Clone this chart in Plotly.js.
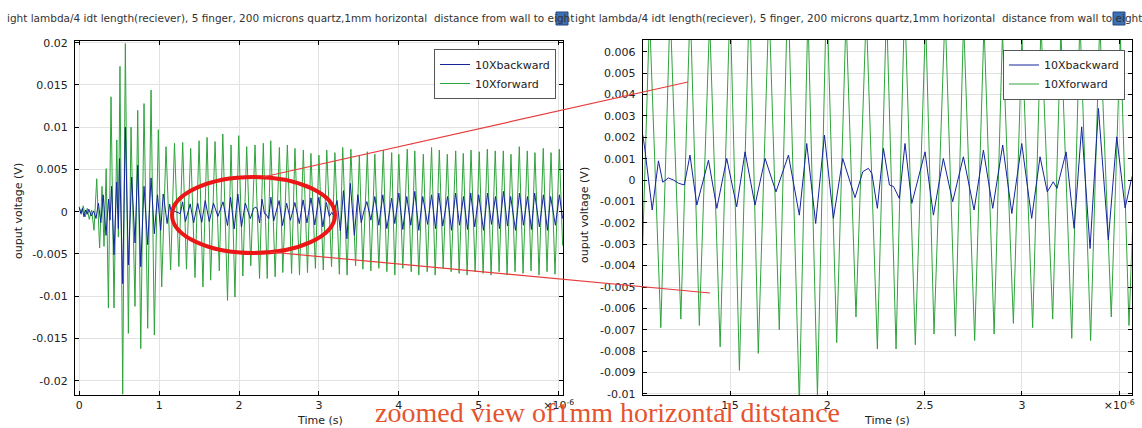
<!DOCTYPE html>
<html><head><meta charset="utf-8">
<script src="https://cdn.plot.ly/plotly-3.0.1.min.js"></script>
<style>html,body{margin:0;padding:0;background:#fff;}#chart{width:1142px;height:428px;}</style>
</head><body><div id="chart"></div>
<script>
// ---- data (time in microseconds, voltage in V) ----
const fwdTimeUs = [0, 0.025, 0.05, 0.075, 0.1, 0.125, 0.155, 0.185, 0.219, 0.255,
  0.285, 0.31, 0.337, 0.365, 0.398, 0.435, 0.47, 0.49, 0.51, 0.544,
  0.577, 0.615, 0.648, 0.698, 0.732, 0.77, 0.811, 0.857, 0.899, 0.94,
  0.99, 1.032, 1.086, 1.144, 1.192, 1.247, 1.295, 1.342, 1.395, 1.449,
  1.5, 1.548, 1.6, 1.645, 1.7, 1.753, 1.797, 1.856, 1.9, 1.949,
  1.996, 2.048, 2.096, 2.147, 2.2, 2.257, 2.304, 2.353, 2.397, 2.452,
  2.505, 2.548, 2.605, 2.658, 2.7, 2.757, 2.805, 2.857, 2.9, 2.956,
  3.0, 3.055, 3.098, 3.158, 3.2, 3.256, 3.298, 3.353, 3.4, 3.459,
  3.506, 3.55, 3.606, 3.65, 3.7, 3.75, 3.806, 3.85, 3.911, 3.95,
  4.0, 4.05, 4.106, 4.155, 4.2, 4.25, 4.307, 4.355, 4.41, 4.455,
  4.507, 4.555, 4.607, 4.655, 4.712, 4.755, 4.807, 4.855, 4.904, 4.955,
  5.007, 5.055, 5.108, 5.155, 5.207, 5.255, 5.308, 5.355, 5.404, 5.455,
  5.508, 5.555, 5.608, 5.655, 5.704, 5.755, 5.808, 5.855, 5.905, 5.955,
  6.009, 6.05];
const fwdVolt = [0.0006, -0.0003, 0.0007, -0.0006, 0.0004, -0.0009, 0.0002, -0.0022, 0.0039, -0.0043,
  0.0030, -0.0041, 0.0051, -0.0114, 0.0136, -0.0114, 0.0085, -0.0030, 0.0172, -0.0216,
  0.0199, -0.0144, 0.0100, -0.0112, 0.0120, -0.0162, 0.0128, -0.0138, 0.0144, -0.0146,
  0.0097, -0.0089, 0.0077, -0.0069, 0.0081, -0.0065, 0.0082, -0.0068, 0.0075, -0.0078,
  0.0084, -0.0089, 0.0088, -0.0081, 0.0083, -0.0070, 0.0092, -0.0105, 0.0079, -0.0101,
  0.0090, -0.0076, 0.0077, -0.0064, 0.0079, -0.0079, 0.0081, -0.0079, 0.0084, -0.0077,
  0.0076, -0.0072, 0.0079, -0.0073, 0.0075, -0.0075, 0.0073, -0.0072, 0.0069, -0.0067,
  0.0067, -0.0069, 0.0073, -0.0065, 0.0070, -0.0074, 0.0076, -0.0075, 0.0074, -0.0064,
  0.0067, -0.0068, 0.0071, -0.0070, 0.0068, -0.0067, 0.0073, -0.0071, 0.0070, -0.0075,
  0.0068, -0.0067, 0.0074, -0.0071, 0.0072, -0.0075, 0.0068, -0.0071, 0.0076, -0.0075,
  0.0073, -0.0067, 0.0068, -0.0071, 0.0072, -0.0073, 0.0069, -0.0075, 0.0073, -0.0071,
  0.0071, -0.0073, 0.0074, -0.0075, 0.0072, -0.0071, 0.0072, -0.0075, 0.0068, -0.0071,
  0.0077, -0.0073, 0.0072, -0.0070, 0.0070, -0.0075, 0.0075, -0.0071, 0.0070, -0.0074,
  0.0074, -0.0040];

const bwdTimeUs = [0, 0.02, 0.04, 0.06, 0.08, 0.1, 0.12, 0.15, 0.18, 0.21,
  0.24, 0.27, 0.3, 0.335, 0.367, 0.385, 0.405, 0.435, 0.468, 0.49,
  0.505, 0.544, 0.577, 0.615, 0.656, 0.698, 0.732, 0.77, 0.811, 0.857,
  0.899, 0.94, 0.98, 1.02, 1.051, 1.06, 1.1, 1.132, 1.154, 1.183,
  1.21, 1.235, 1.265, 1.294, 1.329, 1.389, 1.432, 1.483, 1.534, 1.577,
  1.628, 1.68, 1.736, 1.8, 1.856, 1.894, 1.94, 1.985, 2.031, 2.079,
  2.142, 2.182, 2.211, 2.229, 2.257, 2.288, 2.319, 2.34, 2.37, 2.399,
  2.434, 2.502, 2.545, 2.596, 2.644, 2.699, 2.754, 2.802, 2.85, 2.901,
  2.948, 2.999, 3.05, 3.093, 3.13, 3.161, 3.18, 3.227, 3.268, 3.307,
  3.35, 3.393, 3.444, 3.487, 3.53, 3.564, 3.6, 3.65, 3.7, 3.75,
  3.8, 3.85, 3.91, 3.95, 4.0, 4.05, 4.1, 4.15, 4.2, 4.25,
  4.3, 4.36, 4.41, 4.46, 4.5, 4.55, 4.61, 4.66, 4.71, 4.76,
  4.81, 4.86, 4.9, 4.95, 5.0, 5.06, 5.11, 5.16, 5.21, 5.26,
  5.31, 5.36, 5.4, 5.46, 5.51, 5.56, 5.61, 5.66, 5.7, 5.76,
  5.81, 5.86, 5.9, 5.96, 6.01, 6.05];
const bwdVolt = [0.0005, -0.0002, 0.0004, -0.0006, 0.0002, -0.0003, 0.0003, -0.0005, 0.0001, -0.0008,
  0.0010, -0.0013, 0.0020, -0.0028, 0.0015, -0.0010, 0.0030, -0.0051, 0.0035, -0.0020,
  0.0063, -0.0085, 0.0100, -0.0063, 0.0041, -0.0037, 0.0055, -0.0065, 0.0030, -0.0039,
  0.0040, -0.0026, 0.0020, -0.0022, 0.0021, 0.0016, -0.0014, 0.0009, -0.0001, 0.0001,
  0.0000, -0.00015, -0.00023, 0.00117, -0.00117, 0.00093, -0.00132, 0.00101, -0.00125, 0.00132,
  -0.00117, 0.00101, -0.00055, 0.00117, -0.00164, 0.00171, -0.00203, 0.0021, -0.00179, 0.00101,
  -0.00082, 0.00039, 0.00055, 0.0003, -0.00132, 0.00148, -0.00023, -0.0003, -0.00086, 0.00171,
  -0.00109, 0.00132, -0.00164, 0.00101, -0.00101, 0.00109, -0.0014, 0.0014, -0.00132, 0.00164,
  -0.00156, 0.00171, -0.00179, 0.00109, -0.00055, -0.00008, -0.00039, 0.00132, -0.00226, 0.00249,
  -0.0032, 0.00335, -0.0028, 0.00202, -0.0013, 0.0001, 0.0012, -0.0010, 0.0018, -0.0016,
  0.0020, -0.0020, 0.0016, -0.0014, 0.0022, -0.0021, 0.0018, -0.0016, 0.0024, -0.0022,
  0.0018, -0.0015, 0.0020, -0.0020, 0.0022, -0.0017, 0.0018, -0.0022, 0.0022, -0.0016,
  0.0018, -0.0021, 0.0022, -0.0018, 0.0020, -0.0022, 0.0022, -0.0015, 0.0018, -0.0020,
  0.0024, -0.0017, 0.0018, -0.0022, 0.0022, -0.0016, 0.0018, -0.0021, 0.0022, -0.0018,
  0.0020, -0.0022, 0.0018, -0.0016, 0.0020, -0.0008];

const leftXTicks = [0, 1, 2, 3, 4, 5, 6];
const leftXText = ['0', '1', '2', '3', '4', '5', '×10<sup>-6</sup>'];
const leftYTicks = [0.02, 0.015, 0.01, 0.005, 0, -0.005, -0.01, -0.015, -0.02];
const leftYText = ['0.02', '0.015', '0.01', '0.005', '0', '-0.005', '-0.01', '-0.015', '-0.02'];
const rightXTicks = [1.5, 2, 2.5, 3, 3.5];
const rightXText = ['1.5', '2', '2.5', '3', '×10<sup>-6</sup>'];
const rightYTicks = [0.006, 0.005, 0.004, 0.003, 0.002, 0.001, 0, -0.001, -0.002, -0.003, -0.004, -0.005, -0.006, -0.007, -0.008, -0.009, -0.01];
const rightYText = ['0.006', '0.005', '0.004', '0.003', '0.002', '0.001', '0', '-0.001', '-0.002', '-0.003', '-0.004', '-0.005', '-0.006', '-0.007', '-0.008', '-0.009', '-0.01'];

const seriesNames = ['10Xbackward', '10Xforward'];
const plotTitle = 'ight lambda/4 idt length(reciever), 5 finger, 200 microns quartz,1mm horizontal&nbsp;&nbsp;distance from wall to eight';
const yTitle = 'ouput voltage (V)';
const xTitle = 'Time (s)';
const noteText = 'zoomed view of1mm horizontal ditstance';

// ---- styling ----
const W = 1142, H = 428;
const px = v => v / W;
const py = v => 1 - v / H;
const GREEN = '#2fa33c';
const BLUE = '#14259c';
const FONT = 'DejaVu Sans';

function axisStyle(extra) {
  return Object.assign({
    showline: true, linecolor: '#000', linewidth: 1, mirror: 'ticks',
    ticks: 'inside', ticklen: 4, tickcolor: '#000', tickwidth: 1,
    showgrid: true, gridcolor: '#e2e2e2', gridwidth: 1, zeroline: false,
    tickfont: {family: FONT, size: 11, color: '#222'}, fixedrange: true
  }, extra);
}

const traces = [
  {x: fwdTimeUs, y: fwdVolt, xaxis: 'x', yaxis: 'y', name: seriesNames[1], legend: 'legend',
   mode: 'lines', line: {color: GREEN, width: 1}, hoverinfo: 'skip'},
  {x: bwdTimeUs, y: bwdVolt, xaxis: 'x', yaxis: 'y', name: seriesNames[0], legend: 'legend',
   mode: 'lines', line: {color: BLUE, width: 1}, hoverinfo: 'skip'},
  {x: fwdTimeUs, y: fwdVolt, xaxis: 'x2', yaxis: 'y2', name: seriesNames[1], legend: 'legend2',
   mode: 'lines', line: {color: GREEN, width: 1}, hoverinfo: 'skip'},
  {x: bwdTimeUs, y: bwdVolt, xaxis: 'x2', yaxis: 'y2', name: seriesNames[0], legend: 'legend2',
   mode: 'lines', line: {color: BLUE, width: 1}, hoverinfo: 'skip'}
];

const legendStyle = {
  xanchor: 'left', yanchor: 'top', bgcolor: '#fff', bordercolor: '#555', borderwidth: 1,
  traceorder: 'reversed', font: {family: FONT, size: 11, color: '#222'}, itemwidth: 30
};

const layout = {
  width: W, height: H, margin: {l: 0, r: 0, t: 0, b: 0},
  paper_bgcolor: '#fff', plot_bgcolor: '#fff', showlegend: true,
  font: {family: FONT, size: 11, color: '#222'},
  xaxis: axisStyle({domain: [px(75), px(563)], range: [-0.053, 6.055], anchor: 'y',
    tickmode: 'array', tickvals: leftXTicks, ticktext: leftXText}),
  yaxis: axisStyle({domain: [py(395), py(40.7)], range: [-0.02169, 0.02024], anchor: 'x',
    tickmode: 'array', tickvals: leftYTicks, ticktext: leftYText, ticklabelstandoff: 4}),
  xaxis2: axisStyle({domain: [px(642.7), px(1131.7)], range: [1.051, 3.564], anchor: 'y2',
    tickmode: 'array', tickvals: rightXTicks, ticktext: rightXText}),
  yaxis2: axisStyle({domain: [py(395), py(40)], range: [-0.01005, 0.00655], anchor: 'x2',
    tickmode: 'array', tickvals: rightYTicks, ticktext: rightYText, ticklabelstandoff: 4}),
  legend: Object.assign({x: px(434), y: py(49)}, legendStyle),
  legend2: Object.assign({x: px(1003), y: py(49.5)}, legendStyle),
  shapes: [
    {type: 'circle', xref: 'paper', yref: 'paper', x0: px(172), x1: px(335), y0: py(253), y1: py(177),
     line: {color: 'rgb(236,22,22)', width: 4}},
    {type: 'line', xref: 'paper', yref: 'paper', x0: px(263), y0: py(177), x1: px(688), y1: py(82),
     line: {color: 'rgb(232,60,60)', width: 1.2}},
    {type: 'line', xref: 'paper', yref: 'paper', x0: px(270), y0: py(252), x1: px(710), y1: py(293),
     line: {color: 'rgb(232,60,60)', width: 1.2}},
    {type: 'rect', xref: 'paper', yref: 'paper', x0: px(556), x1: px(568), y0: py(25), y1: py(12),
     fillcolor: '#3d6fb3', line: {color: '#24497e', width: 1}},
    {type: 'rect', xref: 'paper', yref: 'paper', x0: px(1113), x1: px(1125), y0: py(25), y1: py(12),
     fillcolor: '#3d6fb3', line: {color: '#24497e', width: 1}}
  ],
  annotations: [
    {text: plotTitle, xref: 'paper', yref: 'paper', x: px(5), y: py(18), xanchor: 'left', yanchor: 'middle',
     showarrow: false, font: {family: FONT, size: 10.5, color: '#333'}},
    {text: plotTitle, xref: 'paper', yref: 'paper', x: px(573), y: py(18), xanchor: 'left', yanchor: 'middle',
     showarrow: false, font: {family: FONT, size: 10.5, color: '#333'}},
    {text: yTitle, xref: 'paper', yref: 'paper', x: px(18), y: py(211), textangle: -90,
     xanchor: 'center', yanchor: 'middle', showarrow: false, font: {family: FONT, size: 11, color: '#222'}},
    {text: yTitle, xref: 'paper', yref: 'paper', x: px(584), y: py(215), textangle: -90,
     xanchor: 'center', yanchor: 'middle', showarrow: false, font: {family: FONT, size: 11, color: '#222'}},
    {text: xTitle, xref: 'paper', yref: 'paper', x: px(320), y: py(420), xanchor: 'center', yanchor: 'middle',
     showarrow: false, font: {family: FONT, size: 11, color: '#222'}},
    {text: xTitle, xref: 'paper', yref: 'paper', x: px(887), y: py(420), xanchor: 'center', yanchor: 'middle',
     showarrow: false, font: {family: FONT, size: 11, color: '#222'}},
    {text: noteText, xref: 'paper', yref: 'paper', x: px(607), y: py(412), xanchor: 'center', yanchor: 'middle',
     showarrow: false, font: {family: 'Liberation Serif', size: 28, color: '#e5532f'}}
  ]
};

Plotly.newPlot('chart', traces, layout, {staticPlot: true, displayModeBar: false});
</script>
</body></html>
